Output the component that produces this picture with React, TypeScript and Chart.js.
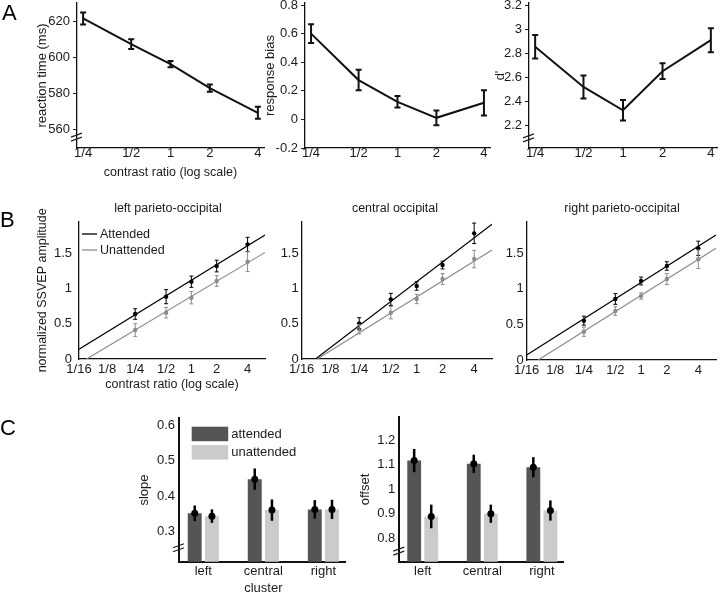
import React, { useEffect, useRef } from 'react';
import { Chart, registerables } from 'chart.js';
Chart.register(...registerables);

const FONT = '"Liberation Sans", Arial, Helvetica, sans-serif';
const TXT = '#1a1a1a';
const GRAY = '#8c8c8c';
const DARK_BAR = '#555555';
const LIGHT_BAR = '#cbcbcb';

// ---------------- data ----------------
const contrastLabelsA = ['1/4', '1/2', '1', '2', '4'];
const contrastPosA = [-2, -0.9, 0, 0.9, 2];
const contrastLabelsB = ['1/16', '1/8', '1/4', '1/2', '1', '2', '4'];
const contrastPosB = [-4, -3, -2, -0.9, 0, 0.9, 2];

const reactionTime = [621.5, 607.3, 596.3, 583.0, 569.4];
const reactionTimeErr = [3.3, 2.7, 1.7, 2.0, 3.3];
const responseBias = [0.6, 0.275, 0.123, 0.011, 0.116];
const responseBiasErr = [0.066, 0.072, 0.04, 0.052, 0.088];
const dPrime = [2.853, 2.519, 2.325, 2.65, 2.908];
const dPrimeErr = [0.097, 0.096, 0.086, 0.065, 0.1];

const rtTicks = [560, 580, 600, 620];
const biasTicks = [-0.2, 0, 0.2, 0.4, 0.6, 0.8];
const dTicks = [2.2, 2.4, 2.6, 2.8, 3, 3.2];
const ssvepTicks = [0, 0.5, 1, 1.5];

const legendLabelsB = ['Attended', 'Unattended'];
const regionTitlesB = ['left parieto-occipital', 'central occipital', 'right parieto-occipital'];

const leftAtt = [0.637, 0.883, 1.095, 1.317, 1.624];
const leftAttErr = [0.075, 0.1, 0.08, 0.083, 0.1];
const leftUnatt = [0.41, 0.656, 0.868, 1.105, 1.378];
const leftUnattErr = [0.09, 0.075, 0.087, 0.076, 0.14];
const leftAttFitX = [-4, 2.62];
const leftAttFitY = [0.14, 1.756];
const leftUnattFitX = [-3.73, 2.62];
const leftUnattFitY = [0, 1.51];

const centralAtt = [0.505, 0.845, 1.034, 1.331, 1.78];
const centralAttErr = [0.08, 0.085, 0.06, 0.055, 0.145];
const centralUnatt = [0.42, 0.656, 0.85, 1.133, 1.416];
const centralUnattErr = [0.066, 0.087, 0.066, 0.076, 0.124];
const centralAttFitX = [-3.52, 2.62];
const centralAttFitY = [0, 1.91];
const centralUnattFitX = [-3.46, 2.62];
const centralUnattFitY = [0, 1.544];

const rightAtt = [0.553, 0.858, 1.111, 1.322, 1.571];
const rightAttErr = [0.063, 0.075, 0.055, 0.06, 0.1];
const rightUnatt = [0.398, 0.689, 0.9, 1.139, 1.416];
const rightUnattErr = [0.065, 0.06, 0.045, 0.077, 0.13];
const rightAttFitX = [-4, 2.62];
const rightAttFitY = [0.07, 1.758];
const rightUnattFitX = [-3.6, 2.62];
const rightUnattFitY = [0, 1.571];

const legendLabelsC = ['attended', 'unattended'];
const regionLabelsSlope: string[][] = [['left'], ['central', 'cluster'], ['right']];
const regionLabelsOffset = ['left', 'central', 'right'];
const regionPos = [0, 1, 2];
const slopeTicks = [0.3, 0.4, 0.5, 0.6];
const slopeAtt = [0.352, 0.448, 0.363];
const slopeAttErr = [0.022, 0.03, 0.026];
const slopeUnatt = [0.344, 0.361, 0.363];
const slopeUnattErr = [0.019, 0.03, 0.027];
const offsetTicks = [0.8, 0.9, 1, 1.1, 1.2];
const offsetAtt = [1.116, 1.103, 1.089];
const offsetAttErr = [0.047, 0.037, 0.041];
const offsetUnatt = [0.889, 0.9, 0.913];
const offsetUnattErr = [0.048, 0.037, 0.041];

// ---------------- helpers ----------------
const pts = (xs: number[], ys: number[]) => ys.map((y, i) => ({ x: xs[i], y }));

type ErrSet = { index: number; errors: number[]; color: string; width: number; cap: number; dot?: number };
function makeErrorBars(sets: ErrSet[]) {
  return {
    id: 'errorBars',
    afterDatasetsDraw(chart: any) {
      const ctx = chart.ctx;
      const ys = chart.scales.y;
      ctx.save();
      for (const s of sets) {
        const meta = chart.getDatasetMeta(s.index);
        const data = chart.data.datasets[s.index].data;
        meta.data.forEach((el: any, i: number) => {
          const d = data[i];
          const v = typeof d === 'object' ? d.y : d;
          const e = s.errors[i];
          const x = el.x;
          const y1 = ys.getPixelForValue(v + e);
          const y2 = ys.getPixelForValue(v - e);
          ctx.strokeStyle = s.color;
          ctx.lineWidth = s.width;
          ctx.lineCap = 'butt';
          ctx.beginPath();
          ctx.moveTo(x, y1);
          ctx.lineTo(x, y2);
          if (s.cap > 0) {
            ctx.moveTo(x - s.cap, y1);
            ctx.lineTo(x + s.cap, y1);
            ctx.moveTo(x - s.cap, y2);
            ctx.lineTo(x + s.cap, y2);
          }
          ctx.stroke();
          if (s.dot) {
            ctx.fillStyle = s.color;
            ctx.beginPath();
            ctx.arc(x, ys.getPixelForValue(v), s.dot, 0, Math.PI * 2);
            ctx.fill();
          }
        });
      }
      ctx.restore();
    },
  };
}

function makeBreak(value: number) {
  return {
    id: 'axisBreak',
    afterDraw(chart: any) {
      const ctx = chart.ctx;
      const x = chart.chartArea.left;
      const y = chart.scales.y.getPixelForValue(value);
      ctx.save();
      ctx.strokeStyle = '#222';
      ctx.lineWidth = 1.3;
      ctx.beginPath();
      ctx.moveTo(x - 6, y + 1);
      ctx.lineTo(x + 5, y - 3);
      ctx.moveTo(x - 6, y + 5);
      ctx.lineTo(x + 5, y + 1);
      ctx.stroke();
      ctx.restore();
    },
  };
}

function makeLineLegend(labels: string[], colors: string[], dx: number, dy: number, gap: number) {
  return {
    id: 'lineLegend',
    afterDraw(chart: any) {
      const ctx = chart.ctx;
      const { left, top } = chart.chartArea;
      ctx.save();
      ctx.font = `12.5px ${FONT}`;
      ctx.textBaseline = 'middle';
      ctx.textAlign = 'left';
      labels.forEach((lab, i) => {
        const y = top + dy + i * gap;
        ctx.strokeStyle = colors[i];
        ctx.lineWidth = 1.3;
        ctx.beginPath();
        ctx.moveTo(left + dx, y);
        ctx.lineTo(left + dx + 15, y);
        ctx.stroke();
        ctx.fillStyle = TXT;
        ctx.fillText(lab, left + dx + 18, y + 0.5);
      });
      ctx.restore();
    },
  };
}

function makeBoxLegend(labels: string[], colors: string[], dx: number, dy: number, gap: number) {
  return {
    id: 'boxLegend',
    afterDraw(chart: any) {
      const ctx = chart.ctx;
      const { left, top } = chart.chartArea;
      ctx.save();
      ctx.font = `13px ${FONT}`;
      ctx.textBaseline = 'middle';
      ctx.textAlign = 'left';
      labels.forEach((lab, i) => {
        const y = top + dy + i * gap;
        ctx.fillStyle = colors[i];
        ctx.fillRect(left + dx, y, 36.5, 14.5);
        ctx.fillStyle = TXT;
        ctx.fillText(lab, left + dx + 39.5, y + 7.5);
      });
      ctx.restore();
    },
  };
}

function yScale(o: any) {
  return {
    type: 'linear',
    position: 'left',
    min: o.min,
    max: o.max,
    afterBuildTicks: (s: any) => {
      s.ticks = o.ticks.map((v: number) => ({ value: v }));
    },
    afterFit: (s: any) => {
      s.width = o.width;
      s.paddingTop = 0;
      s.paddingBottom = 0;
    },
    grid: {
      drawOnChartArea: false,
      drawTicks: o.tickLen > 0,
      tickLength: o.tickLen,
      color: '#222',
      lineWidth: 1,
    },
    border: { display: true, color: '#111', width: o.border },
    ticks: {
      color: TXT,
      font: { family: FONT, size: o.size, lineHeight: 1 },
      padding: o.pad,
      autoSkip: false,
      callback: (v: any) => String(v),
    },
    title: o.title
      ? {
          display: true,
          text: o.title,
          color: TXT,
          font: { family: FONT, size: o.titleSize, lineHeight: 1.2 },
          padding: { top: o.titlePad, bottom: 0 },
        }
      : { display: false },
  };
}

function xScale(o: any) {
  return {
    type: 'linear',
    position: 'bottom',
    offset: false,
    min: o.min,
    max: o.max,
    afterBuildTicks: (s: any) => {
      s.ticks = o.ticks.map((v: number) => ({ value: v }));
    },
    afterFit: (s: any) => {
      s.height = o.height;
      s.paddingLeft = 0;
      s.paddingRight = 0;
    },
    grid: { display: true, offset: false, drawOnChartArea: false, drawTicks: false },
    border: { display: true, color: '#111', width: o.border },
    ticks: {
      color: TXT,
      font: { family: FONT, size: o.size, lineHeight: o.lineHeight || 1 },
      padding: o.pad,
      autoSkip: false,
      maxRotation: 0,
      minRotation: 0,
      callback: (v: any) => {
        const i = o.ticks.indexOf(v);
        return i >= 0 ? o.labels[i] : '';
      },
    },
    title: o.title
      ? {
          display: true,
          text: o.title,
          color: TXT,
          font: { family: FONT, size: o.titleSize, lineHeight: 1.2 },
          padding: { top: 0, bottom: o.titlePad },
        }
      : { display: false },
  };
}

const baseOptions = (padding: any) => ({
  responsive: false,
  animation: false,
  events: [],
  layout: { padding },
  plugins: { legend: { display: false }, tooltip: { enabled: false }, title: { display: false } },
});

// ---------------- panel A ----------------
function aConfig(values: number[], errs: number[], y: any, padding: any, showXTitle: boolean, brk: number | null) {
  const plugins: any[] = [
    makeErrorBars([{ index: 0, errors: errs, color: '#111', width: 2, cap: 3 }]),
  ];
  if (brk !== null) plugins.push(makeBreak(brk));
  return {
    type: 'line',
    data: {
      datasets: [
        {
          data: pts(contrastPosA, values),
          borderColor: '#111',
          borderWidth: 2,
          pointRadius: 0,
          tension: 0,
          fill: false,
        },
      ],
    },
    options: {
      ...baseOptions(padding),
      scales: {
        x: xScale({
          min: -2.14,
          max: 2.14,
          ticks: contrastPosA,
          labels: contrastLabelsA,
          height: 37,
          border: 1.3,
          size: 13,
          pad: -1.5,
          title: showXTitle ? 'contrast ratio (log scale)' : null,
          titleSize: 12.5,
          titlePad: 4.5,
        }),
        y: yScale({ ...y, border: 1.3, size: 13, tickLen: 4, pad: 3, titleSize: 13 }),
      },
    },
    plugins,
  };
}

// ---------------- panel B ----------------
function bConfig(o: any) {
  const plugins: any[] = [
    makeErrorBars([
      { index: 0, errors: o.attErr, color: '#000', width: 1, cap: 2 },
      { index: 1, errors: o.unattErr, color: GRAY, width: 1, cap: 2 },
    ]),
  ];
  if (o.legend) plugins.push(makeLineLegend(legendLabelsB, ['#000', GRAY], 3, 12.3, 16));
  return {
    type: 'line',
    data: {
      datasets: [
        { data: pts(contrastPosA, o.att), showLine: false, pointRadius: 2.2, pointBackgroundColor: '#000', pointBorderWidth: 0, borderColor: '#000' },
        { data: pts(contrastPosA, o.unatt), showLine: false, pointRadius: 2.2, pointBackgroundColor: GRAY, pointBorderWidth: 0, borderColor: GRAY },
        { data: pts(o.attFitX, o.attFitY), borderColor: '#000', borderWidth: 1.2, pointRadius: 0, tension: 0 },
        { data: pts(o.unattFitX, o.unattFitY), borderColor: GRAY, borderWidth: 1.2, pointRadius: 0, tension: 0 },
      ],
    },
    options: {
      ...baseOptions(o.padding),
      scales: {
        x: xScale({
          min: -4,
          max: 2.62,
          ticks: contrastPosB,
          labels: contrastLabelsB,
          height: o.xHeight,
          border: 1.3,
          size: 13,
          pad: 3.5,
          title: o.xTitle || null,
          titleSize: 12.5,
          titlePad: 7.5,
        }),
        y: yScale({
          min: 0,
          max: 1.945,
          ticks: ssvepTicks,
          width: o.yWidth,
          border: 1.3,
          size: 13,
          tickLen: 0,
          pad: o.yPad,
          title: o.yTitle || null,
          titleSize: 12.5,
          titlePad: 35.2,
        }),
      },
    },
    plugins,
  };
}

// ---------------- panel C ----------------
function cConfig(o: any) {
  const plugins: any[] = [
    makeErrorBars([
      { index: 0, errors: o.attErr, color: '#000', width: 2.5, cap: 0, dot: 3.5 },
      { index: 1, errors: o.unattErr, color: '#000', width: 2.5, cap: 0, dot: 3.5 },
    ]),
    makeBreak(o.brk),
  ];
  if (o.legend) plugins.push(makeBoxLegend(legendLabelsC, [DARK_BAR, LIGHT_BAR], 12.7, 8.4, 18.4));
  return {
    type: 'bar',
    data: {
      datasets: [
        { data: pts(regionPos, o.att), backgroundColor: DARK_BAR, borderWidth: 0, categoryPercentage: 0.573, barPercentage: 0.81 },
        { data: pts(regionPos, o.unatt), backgroundColor: LIGHT_BAR, borderWidth: 0, categoryPercentage: 0.573, barPercentage: 0.81 },
      ],
    },
    options: {
      ...baseOptions(o.padding),
      scales: {
        x: xScale({
          min: o.xMin,
          max: o.xMax,
          ticks: regionPos,
          labels: o.labels,
          height: 32.3,
          border: 2,
          size: 13,
          lineHeight: 1.25,
          pad: 2,
          title: null,
        }),
        y: yScale({
          min: o.yMin,
          max: o.yMax,
          ticks: o.ticks,
          width: o.yWidth,
          border: 2,
          size: 13,
          tickLen: 0,
          pad: 4,
          title: o.yTitle,
          titleSize: 13,
          titlePad: o.titlePad,
        }),
      },
    },
    plugins,
  };
}

// ---------------- components ----------------
function Panel({ left, top, width, height, config }: any) {
  const ref = useRef<HTMLCanvasElement>(null);
  useEffect(() => {
    const chart = new Chart(ref.current as HTMLCanvasElement, config() as any);
    return () => chart.destroy();
  }, []);
  return (
    <canvas
      ref={ref}
      width={width}
      height={height}
      style={{ position: 'absolute', left, top, width, height }}
    />
  );
}

const letterStyle = (left: number, top: number): React.CSSProperties => ({
  position: 'absolute',
  left,
  top,
  fontFamily: FONT,
  fontSize: 22,
  lineHeight: 1,
  color: '#000',
});

const titleStyle = (center: number): React.CSSProperties => ({
  position: 'absolute',
  left: center - 100,
  width: 200,
  top: 201,
  textAlign: 'center',
  fontFamily: FONT,
  fontSize: 12.5,
  lineHeight: '14px',
  color: TXT,
});

export default function App() {
  useEffect(() => {
    document.body.style.margin = '0';
  }, []);
  return (
    <div style={{ position: 'relative', width: 720, height: 594, background: '#fff', overflow: 'hidden' }}>
      {/* Row A */}
      <Panel
        left={0}
        top={0}
        width={270}
        height={185}
        config={() =>
          aConfig(
            reactionTime,
            reactionTimeErr,
            { min: 550, max: 630, ticks: rtTicks, width: 77, title: 'reaction time (ms)', titlePad: 35 },
            { top: 3, right: 6, left: 0, bottom: 0 },
            true,
            556.5
          )
        }
      />
      <Panel
        left={240}
        top={0}
        width={255}
        height={185}
        config={() =>
          aConfig(
            responseBias,
            responseBiasErr,
            { min: -0.2, max: 0.814, ticks: biasTicks, width: 65, title: 'response bias', titlePad: 22.5 },
            { top: 3, right: 5, left: 0, bottom: 0 },
            false,
            null
          )
        }
      />
      <Panel
        left={480}
        top={0}
        width={240}
        height={185}
        config={() =>
          aConfig(
            dPrime,
            dPrimeErr,
            { min: 2.011, max: 3.217, ticks: dTicks, width: 49, title: "d'", titlePad: 12.5 },
            { top: 3, right: 3, left: 0, bottom: 0 },
            false,
            2.103
          )
        }
      />

      {/* Row B */}
      <Panel
        left={0}
        top={200}
        width={270}
        height={200}
        config={() =>
          bConfig({
            att: leftAtt,
            attErr: leftAttErr,
            unatt: leftUnatt,
            unattErr: leftUnattErr,
            attFitX: leftAttFitX,
            attFitY: leftAttFitY,
            unattFitX: leftUnattFitX,
            unattFitY: leftUnattFitY,
            padding: { top: 21.7, right: 5, left: 0, bottom: 0 },
            yWidth: 79,
            yPad: 7,
            xHeight: 41,
            legend: true,
            xTitle: 'contrast ratio (log scale)',
            yTitle: 'normalized SSVEP amplitude',
          })
        }
      />
      <Panel
        left={240}
        top={200}
        width={256}
        height={200}
        config={() =>
          bConfig({
            att: centralAtt,
            attErr: centralAttErr,
            unatt: centralUnatt,
            unattErr: centralUnattErr,
            attFitX: centralAttFitX,
            attFitY: centralAttFitY,
            unattFitX: centralUnattFitX,
            unattFitY: centralUnattFitY,
            padding: { top: 21.7, right: 3, left: 0, bottom: 0 },
            yWidth: 61.7,
            yPad: 3,
            xHeight: 41,
          })
        }
      />
      <Panel
        left={480}
        top={200}
        width={240}
        height={200}
        config={() =>
          bConfig({
            att: rightAtt,
            attErr: rightAttErr,
            unatt: rightUnatt,
            unattErr: rightUnattErr,
            attFitX: rightAttFitX,
            attFitY: rightAttFitY,
            unattFitX: rightUnattFitX,
            unattFitY: rightUnattFitY,
            padding: { top: 21.7, right: 1, left: 0, bottom: 0 },
            yWidth: 46.7,
            yPad: 3,
            xHeight: 40,
          })
        }
      />

      {/* Row C */}
      <Panel
        left={120}
        top={400}
        width={230}
        height={194}
        config={() =>
          cConfig({
            att: slopeAtt,
            attErr: slopeAttErr,
            unatt: slopeUnatt,
            unattErr: slopeUnattErr,
            labels: regionLabelsSlope,
            ticks: slopeTicks,
            yMin: 0.216,
            yMax: 0.619,
            xMin: -0.405,
            xMax: 2.36,
            yWidth: 59,
            padding: { top: 18.3, right: 5, left: 0, bottom: 0 },
            yTitle: 'slope',
            titlePad: 16.2,
            brk: 0.258,
            legend: true,
          })
        }
      />
      <Panel
        left={350}
        top={400}
        width={220}
        height={194}
        config={() =>
          cConfig({
            att: offsetAtt,
            attErr: offsetAttErr,
            unatt: offsetUnatt,
            unattErr: offsetUnattErr,
            labels: regionLabelsOffset,
            ticks: offsetTicks,
            yMin: 0.705,
            yMax: 1.292,
            xMin: -0.393,
            xMax: 2.36,
            yWidth: 49.3,
            padding: { top: 17.3, right: 6.7, left: 0, bottom: 0 },
            yTitle: 'offset',
            titlePad: 7.2,
            brk: 0.752,
            legend: false,
          })
        }
      />

      {/* panel letters and titles */}
      <div style={letterStyle(2, 2)}>A</div>
      <div style={letterStyle(0, 209)}>B</div>
      <div style={letterStyle(0, 417)}>C</div>
      <div style={titleStyle(168)}>{regionTitlesB[0]}</div>
      <div style={titleStyle(395)}>{regionTitlesB[1]}</div>
      <div style={titleStyle(622)}>{regionTitlesB[2]}</div>
    </div>
  );
}
